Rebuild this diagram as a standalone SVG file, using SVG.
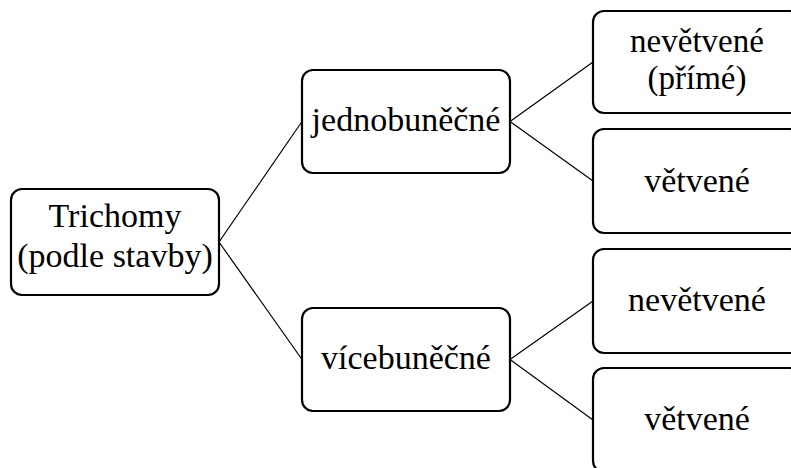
<svg xmlns="http://www.w3.org/2000/svg" width="791" height="468" viewBox="0 0 791 468">
<style>
.box{fill:#fff;stroke:#000;stroke-width:2.2}
.t{font-family:"Liberation Serif","Times New Roman",serif;font-size:34px;fill:#000;text-anchor:middle}
.s{font-size:33px}
.c{stroke:#000;stroke-width:1.2;fill:none}
</style>
<rect width="791" height="468" fill="#fff"/>
<g id="connectors">
<line class="c" x1="219" y1="242" x2="302" y2="121.5"/>
<line class="c" x1="219" y1="242" x2="302" y2="359.5"/>
<line class="c" x1="510" y1="121.5" x2="593" y2="62"/>
<line class="c" x1="510" y1="121.5" x2="593" y2="181"/>
<line class="c" x1="510" y1="359.5" x2="593" y2="301"/>
<line class="c" x1="510" y1="359.5" x2="593" y2="420"/>
</g>
<g id="root">
<rect class="box" x="11" y="189" width="208" height="106" rx="11"/>
<text class="t" x="115" y="227">Trichomy</text>
<text class="t" x="115" y="267">(podle stavby)</text>
</g>
<g id="jednobunecne">
<rect class="box" x="302" y="70" width="208" height="103" rx="11"/>
<text class="t" x="406" y="131">jednobuněčné</text>
</g>
<g id="vicebunecne">
<rect class="box" x="302" y="308" width="208" height="103" rx="11"/>
<text class="t" x="406" y="369">vícebuněčné</text>
</g>
<g id="nevetvene1">
<rect class="box" x="593" y="11" width="208" height="102" rx="11"/>
<text class="t s" x="697" y="52">nevětvené</text>
<text class="t s" x="697" y="89">(přímé)</text>
</g>
<g id="vetvene1">
<rect class="box" x="593" y="129" width="208" height="104" rx="11"/>
<text class="t" x="697" y="192">větvené</text>
</g>
<g id="nevetvene2">
<rect class="box" x="593" y="249" width="208" height="104" rx="11"/>
<text class="t" x="697" y="311">nevětvené</text>
</g>
<g id="vetvene2">
<rect class="box" x="593" y="368" width="208" height="104" rx="11"/>
<text class="t" x="697" y="430">větvené</text>
</g>
</svg>
